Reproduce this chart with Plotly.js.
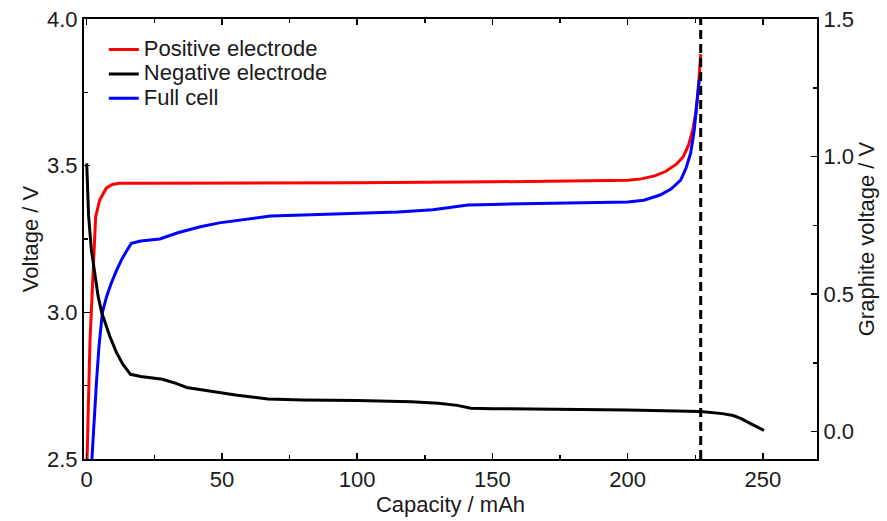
<!DOCTYPE html>
<html>
<head>
<meta charset="utf-8">
<script src="https://cdn.plot.ly/plotly-3.0.1.min.js"></script>
<style>html,body{margin:0;padding:0;background:#fff;}#chart{width:887px;height:521px;}</style>
</head>
<body>
<div id="chart"></div>
<script>
// Positive electrode (left axis, V)
const posCap = [0, 0.6, 1.2, 1.7, 2.2, 2.6, 3.3, 4.8, 7.3, 9.5, 12, 20, 50, 100, 150, 190, 200, 205, 210, 214, 218, 220.5, 222.5, 224, 225.2, 226, 226.6, 227];
const posV   = [2.45, 2.7, 2.9, 3.0, 3.12, 3.21, 3.325, 3.383, 3.424, 3.436, 3.44, 3.44, 3.44, 3.442, 3.445, 3.448, 3.45, 3.455, 3.465, 3.48, 3.505, 3.53, 3.57, 3.62, 3.68, 3.75, 3.82, 3.88];

// Negative electrode (graphite, right axis, V)
const negCap = [0, 0.7, 1.7, 3, 4.2, 5.5, 7, 8.5, 11, 13.4, 16.2, 20, 28, 33, 37, 43, 49, 55, 60, 67, 80, 100, 120, 130, 137, 142, 150, 170, 200, 227, 235, 239, 242, 244, 247, 250.4];
const negV   = [0.975, 0.784, 0.663, 0.566, 0.493, 0.434, 0.387, 0.347, 0.287, 0.244, 0.208, 0.2, 0.19, 0.175, 0.16, 0.15, 0.142, 0.133, 0.127, 0.118, 0.115, 0.113, 0.108, 0.103, 0.095, 0.085, 0.083, 0.082, 0.078, 0.073, 0.065, 0.058, 0.047, 0.036, 0.02, 0.004];

// Full cell (left axis, V)
const fullCap = [1.6, 2.5, 3.6, 4.5, 5.8, 7.4, 9.1, 11, 12.8, 14.8, 16.5, 20, 27, 34, 42, 49, 55, 62, 68, 80, 100, 115, 128, 135, 141, 150, 190, 200, 206, 212, 216, 219.6, 221.5, 223.3, 224.6, 225.6, 226.3, 226.8];
const fullV   = [2.45, 2.6, 2.76, 2.88, 3.0, 3.055, 3.1, 3.142, 3.178, 3.21, 3.235, 3.243, 3.25, 3.272, 3.292, 3.305, 3.313, 3.322, 3.328, 3.332, 3.337, 3.342, 3.35, 3.358, 3.366, 3.368, 3.373, 3.376, 3.382, 3.40, 3.42, 3.451, 3.49, 3.543, 3.62, 3.72, 3.78, 3.80];

// Cut-off marker
const cutCap = [227, 227];
const cutV = [2.5, 4.0];

const seriesNames = ['Positive electrode', 'Negative electrode', 'Full cell'];

const xTicks = [0, 50, 100, 150, 200, 250];
const yTicks = [2.5, 3.0, 3.5, 4.0];
const y2Ticks = [0.0, 0.5, 1.0, 1.5];

const fam = 'Liberation Sans, Arial, sans-serif';
const font = {family: fam, size: 22, color: '#1a1a1a'};
const legFont = {family: fam, size: 16.5, color: '#1a1a1a'};
const legName = s => '<span style="font-size:22px">' + s + '</span>';

const traces = [
  {x: posCap, y: posV, name: legName(seriesNames[0]), mode: 'lines', line: {color: '#ff0000', width: 3}, yaxis: 'y'},
  {x: negCap, y: negV, name: legName(seriesNames[1]), mode: 'lines', line: {color: '#000000', width: 3}, yaxis: 'y2'},
  {x: fullCap, y: fullV, name: legName(seriesNames[2]), mode: 'lines', line: {color: '#0000ff', width: 3}, yaxis: 'y'},
  {x: cutCap, y: cutV, mode: 'lines', showlegend: false, line: {color: '#000000', width: 3, dash: '9px,5px'}, yaxis: 'y'}
];

const layout = {
  width: 887, height: 521,
  margin: {l: 84, r: 70, t: 19, b: 62},
  paper_bgcolor: '#fff', plot_bgcolor: '#fff',
  font: font,
  showlegend: true,
  legend: {x: 0.027, y: 0.97, xanchor: 'left', yanchor: 'top', bgcolor: 'rgba(0,0,0,0)', font: legFont, tracegroupgap: 0},
  xaxis: {
    range: [-1, 270], tickvals: xTicks, ticks: 'inside', ticklen: 6, tickwidth: 1.5, tickcolor: '#000',
    showline: true, linecolor: '#000', linewidth: 2, mirror: 'ticks', showgrid: false, zeroline: false,
    minor: {dtick: 25, tick0: 0, ticks: 'inside', ticklen: 4, tickwidth: 1.5, tickcolor: '#000', showgrid: false},
    title: {text: 'Capacity / mAh', font: font, standoff: 4}
  },
  yaxis: {
    range: [2.5, 4.0], tickvals: yTicks, tickformat: '.1f', ticks: 'inside', ticklen: 6, tickwidth: 1.5, tickcolor: '#000',
    showline: true, linecolor: '#000', linewidth: 2, showgrid: false, zeroline: false,
    minor: {dtick: 0.25, tick0: 2.5, ticks: 'inside', ticklen: 4, tickwidth: 1.5, tickcolor: '#000', showgrid: false},
    title: {text: 'Voltage / V', font: font, standoff: 2}
  },
  yaxis2: {
    overlaying: 'y', side: 'right', range: [-0.1, 1.5], tickvals: y2Ticks, tickformat: '.1f',
    ticks: 'inside', ticklen: 6, tickwidth: 1.5, tickcolor: '#000',
    showline: true, linecolor: '#000', linewidth: 2, showgrid: false, zeroline: false,
    minor: {dtick: 0.25, tick0: 0, ticks: 'inside', ticklen: 4, tickwidth: 1.5, tickcolor: '#000', showgrid: false},
    title: {text: 'Graphite voltage / V', font: font, standoff: 6}
  }
};

Plotly.newPlot('chart', traces, layout, {displayModeBar: false, staticPlot: true});
</script>
</body>
</html>
